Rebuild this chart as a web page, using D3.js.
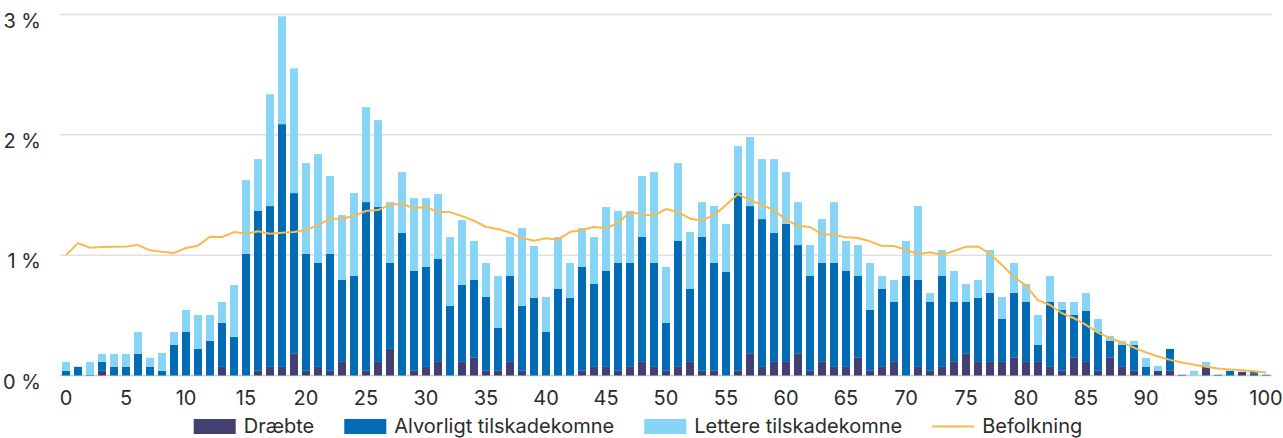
<!DOCTYPE html>
<html>
<head>
<meta charset="utf-8">
<script src="https://cdn.jsdelivr.net/npm/d3@7"></script>
<style>
    body { margin: 0; background: #fff; }
    svg text { font-family: Inter, 'Noto Sans', sans-serif; fill: #2b2b2b; }
    .axis-label { font-size: 20px; }
    .legend-label { font-size: 20px; }
</style>
</head>
<body>
<div id="chart"></div>
<script>
// ages 0..100
const ages = d3.range(0, 101);

// share (%) per age, visible stack segments
const draebte = [
    0, 0, 0, 0.039, 0, 0, 0, 0, 0, 0,
    0, 0.005, 0, 0.072, 0, 0, 0.039, 0.072, 0.072, 0.18,
    0.039, 0.072, 0.039, 0.113, 0, 0.039, 0.113, 0.221, 0, 0.039,
    0.072, 0.113, 0, 0.113, 0.147, 0.039, 0.039, 0.113, 0.039, 0,
    0, 0, 0, 0.039, 0.072, 0.072, 0.039, 0.072, 0.113, 0.072,
    0.039, 0.072, 0.113, 0.039, 0.039, 0, 0.039, 0.18, 0.072, 0.113,
    0.113, 0.18, 0.039, 0.113, 0.072, 0.072, 0.147, 0.039, 0.072, 0.113,
    0, 0.072, 0.039, 0.072, 0.113, 0.18, 0.113, 0.113, 0.113, 0.147,
    0.113, 0.113, 0.072, 0.039, 0.147, 0.113, 0.039, 0.147, 0.072, 0.039,
    0, 0.039, 0.039, 0, 0, 0.072, 0, 0, 0.03, 0.015,
    0
];
const alvorligt = [
    0.039, 0.072, 0.005, 0.074, 0.072, 0.072, 0.18, 0.072, 0.039, 0.254,
    0.362, 0.216, 0.288, 0.365, 0.321, 1.01, 1.328, 1.336, 2.017, 1.336,
    0.971, 0.863, 0.971, 0.681, 0.827, 1.402, 1.287, 0.714, 1.184, 0.83,
    0.83, 0.855, 0.578, 0.639, 0.647, 0.614, 0.357, 0.714, 0.539, 0.645,
    0.362, 0.719, 0.645, 0.863, 0.689, 0.797, 0.896, 0.863, 1.038, 0.863,
    0.398, 1.046, 0.606, 1.112, 0.896, 0.86, 1.477, 1.228, 1.228, 1.071,
    1.146, 0.904, 0.788, 0.822, 0.863, 0.797, 0.68, 0.506, 0.647, 0.498,
    0.827, 0.722, 0.572, 0.755, 0.498, 0.431, 0.532, 0.573, 0.357, 0.539,
    0.498, 0.141, 0.539, 0.506, 0.356, 0.424, 0.323, 0.141, 0.182, 0.215,
    0.072, 0, 0.182, 0.006, 0, 0, 0.006, 0.039, 0, 0.02,
    0.006
];
const lettere = [
    0.074, 0, 0.108, 0.067, 0.108, 0.108, 0.182, 0.075, 0.149, 0.108,
    0.183, 0.282, 0.215, 0.174, 0.431, 0.614, 0.431, 0.929, 0.896, 1.037,
    0.755, 0.905, 0.647, 0.539, 0.689, 0.789, 0.722, 0.506, 0.506, 0.605,
    0.572, 0.54, 0.573, 0.54, 0.324, 0.282, 0.431, 0.324, 0.647, 0.431,
    0.291, 0.432, 0.29, 0.323, 0.39, 0.531, 0.432, 0.432, 0.506, 0.755,
    0.465, 0.647, 0.473, 0.29, 0.473, 0.399, 0.39, 0.573, 0.498, 0.614,
    0.431, 0.357, 0.257, 0.365, 0.506, 0.249, 0.257, 0.39, 0.108, 0.183,
    0.291, 0.614, 0.075, 0.216, 0.258, 0.15, 0.149, 0.357, 0.183, 0.249,
    0.15, 0.249, 0.216, 0.066, 0.108, 0.149, 0.108, 0.041, 0.034, 0.034,
    0.075, 0.041, 0, 0, 0.039, 0.041, 0, 0, 0, 0,
    0
];
const befolkning = [
    1.0, 1.10, 1.062, 1.068, 1.07, 1.073, 1.084, 1.04, 1.029, 1.018,
    1.06, 1.079, 1.154, 1.151, 1.192, 1.178, 1.198, 1.178, 1.187, 1.192,
    1.209, 1.25, 1.303, 1.303, 1.328, 1.367, 1.375, 1.419, 1.427, 1.389,
    1.402, 1.358, 1.358, 1.325, 1.286, 1.234, 1.217, 1.187, 1.142, 1.12,
    1.14, 1.129, 1.192, 1.209, 1.234, 1.223, 1.267, 1.358, 1.339, 1.328,
    1.383, 1.358, 1.303, 1.289, 1.333, 1.416, 1.508, 1.458, 1.416, 1.375,
    1.292, 1.245, 1.234, 1.173, 1.17, 1.148, 1.142, 1.115, 1.076, 1.076,
    1.043, 1.01, 1.024, 1.001, 1.035, 1.07, 1.073, 1.01, 0.918, 0.819,
    0.747, 0.625, 0.586, 0.517, 0.476, 0.42, 0.357, 0.31, 0.274, 0.232,
    0.191, 0.158, 0.13, 0.108, 0.089, 0.072, 0.058, 0.05, 0.044, 0.036,
    0.025
];

const yTicks = [0, 1, 2, 3];
const xTicks = d3.range(0, 101, 5);

const seriesKeys = ['draebte', 'alvorligt', 'lettere'];
const seriesNames = {
    draebte: 'Dræbte',
    alvorligt: 'Alvorligt tilskadekomne',
    lettere: 'Lettere tilskadekomne',
    befolkning: 'Befolkning'
};
const colors = {
    draebte: '#433f70',
    alvorligt: '#006cb5',
    lettere: '#86d5f6',
    befolkning: '#f9b94c'
};

const width = 1283, height = 438;
const margin = { top: 14.5, left: 60, right: 11, bottom: 62.5 };

const svg = d3.select('#chart')
    .append('svg')
    .attr('width', width)
    .attr('height', height);

const table = ages.map((a, i) => ({
    age: a,
    draebte: draebte[i],
    alvorligt: alvorligt[i],
    lettere: lettere[i]
}));

const xScale = d3.scaleBand()
    .domain(ages)
    .range([margin.left, width - margin.right])
    .paddingInner(1 / 3)
    .paddingOuter(1 / 6);

const yScale = d3.scaleLinear()
    .domain([0, 3])
    .range([height - margin.bottom, margin.top]);

// gridlines
svg.append('g')
    .selectAll('line')
    .data(yTicks)
    .join('line')
    .attr('x1', margin.left)
    .attr('x2', width - margin.right)
    .attr('y1', d => yScale(d))
    .attr('y2', d => yScale(d))
    .attr('stroke', d => d === 0 ? '#cfcfcf' : '#e0e0e0')
    .attr('stroke-width', 1.5);

// y labels sit just under their gridline
svg.append('g')
    .selectAll('text')
    .data(yTicks)
    .join('text')
    .classed('axis-label', true)
    .attr('x', 41)
    .attr('y', d => yScale(d) + 13)
    .attr('text-anchor', 'end')
    .text(d => d + ' %');

// x axis labels
const xAxis = d3.axisBottom(xScale)
    .tickValues(xTicks)
    .tickSize(0)
    .tickPadding(0);
const xAxisG = svg.append('g')
    .attr('transform', `translate(0, ${height - margin.bottom})`)
    .call(xAxis);
xAxisG.select('.domain').remove();
xAxisG.attr('font-size', null).attr('font-family', null);
xAxisG.selectAll('text')
    .classed('axis-label', true)
    .attr('dy', null)
    .attr('y', 29.5)
    .attr('fill', '#2b2b2b');

// stacked bars
const stack = d3.stack().keys(seriesKeys);
const layers = stack(table);

svg.append('g')
    .selectAll('g')
    .data(layers)
    .join('g')
    .attr('fill', d => colors[d.key])
    .selectAll('rect')
    .data(d => d)
    .join('rect')
    .attr('x', d => xScale(d.data.age))
    .attr('width', xScale.bandwidth())
    .attr('y', d => yScale(d[1]))
    .attr('height', d => yScale(d[0]) - yScale(d[1]));

// population line
const line = d3.line()
    .x((d, i) => xScale(ages[i]) + xScale.bandwidth() / 2)
    .y(d => yScale(d));

svg.append('path')
    .datum(befolkning)
    .attr('fill', 'none')
    .attr('stroke', colors.befolkning)
    .attr('stroke-width', 2)
    .attr('stroke-linejoin', 'round')
    .attr('d', line);

// legend, centred under the chart
const legendKeys = ['draebte', 'alvorligt', 'lettere', 'befolkning'];
const swatchW = 42, swatchH = 15, textGap = 8, itemGap = 30;
const legend = svg.append('g');
let cursor = 0;
legendKeys.forEach(key => {
    const item = legend.append('g').attr('transform', `translate(${cursor}, 0)`);
    if (key === 'befolkning') {
        item.append('line')
            .attr('x1', 0).attr('x2', swatchW)
            .attr('y1', 0).attr('y2', 0)
            .attr('stroke', colors[key])
            .attr('stroke-width', 2);
    } else {
        item.append('rect')
            .attr('x', 0).attr('y', -swatchH / 2)
            .attr('width', swatchW).attr('height', swatchH)
            .attr('fill', colors[key]);
    }
    const label = item.append('text')
        .classed('legend-label', true)
        .attr('x', swatchW + textGap)
        .attr('y', 6.5)
        .text(seriesNames[key]);
    cursor += swatchW + textGap + label.node().getComputedTextLength() + itemGap;
});
const legendWidth = cursor - itemGap;
legend.attr('transform', `translate(${638 - legendWidth / 2}, 426.5)`);
</script>
</body>
</html>
